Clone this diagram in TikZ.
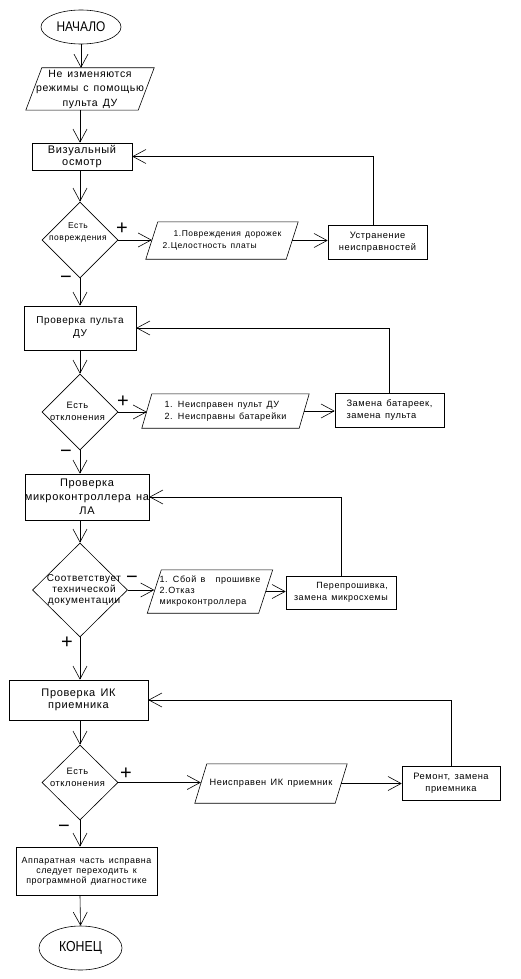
\documentclass[tikz,border=0pt]{standalone}
\usepackage{fontspec}
\setmainfont{Liberation Sans}[LetterSpace=6,WordSpace=1.4]
\newfontfamily\termfont{Liberation Sans}[FakeStretch=0.85]
\newfontfamily\signfont{Liberation Sans}
\usetikzlibrary{arrows.meta,shapes.geometric}
\newcommand\fsz[2]{\fontsize{#1}{#2}\selectfont}
\newcommand\iopara[2]{\draw[thinl] ([xshift=#2]#1.north west) -- ([xshift=#2]#1.north east) -- ([xshift=-#2]#1.south east) -- ([xshift=-#2]#1.south west) -- cycle;}
\begin{document}
\begin{tikzpicture}[x=1pt,y=-1pt,
 thinl/.style={line width=0.6pt},
 arr/.style={thinl,-{Straight Barb[length=13pt,width=14pt]}},
 box/.style={draw,thinl,rectangle,inner sep=0pt,align=center},
 term/.style={draw,thinl,ellipse,inner sep=0pt,font=\termfont\fsz{14}{14}},
 io/.style={rectangle,inner sep=0pt},
 dia/.style={draw,thinl,diamond,inner sep=0pt},
 dtext/.style={inner sep=0pt,align=center},
 sgn/.style={inner sep=0pt,font=\signfont\fsz{20}{20}}]
\fill[white] (0,0) rectangle (521,979);
\useasboundingbox (0,0) rectangle (521,979);

\node[term,minimum width=80pt,minimum height=34pt] (start) at (81,27) {НАЧАЛО};
\node[io,minimum width=112pt,minimum height=42pt,align=center,font=\fsz{10.5}{14.5}] (in) at (90,89) {Не изменяются\\режимы с помощью\\пульта ДУ};
\iopara{in}{8pt}
\node[box,minimum width=100pt,minimum height=27pt,font=\fsz{11}{12}] (vis) at (82,156.5) {Визуальный\\осмотр};
\node[dia,minimum width=76pt,minimum height=76pt] (d1) at (80,240) {};
\node[dtext,font=\fsz{8.5}{11.5}] (d1t) at (78,232.5) {Есть\\повреждения};
\node[io,minimum width=140pt,minimum height=37pt,align=left,font=\fsz{8.5}{12.5}] (io2) at (222,240.5) {\hspace*{11pt}1.Повреждения дорожек\\2.Целостность платы};
\iopara{io2}{6pt}
\node[box,minimum width=99pt,minimum height=34pt,font=\fsz{9.3}{12}] (fix1) at (377.5,242) {Устранение\\неисправностей};

\node[box,minimum width=112pt,minimum height=44pt,font=\fsz{10}{13}] (p2) at (80,328) {Проверка пульта\\ДУ};
\node[dia,minimum width=76pt,minimum height=76pt] (d2) at (80,412) {};
\node[dtext,font=\fsz{9.3}{12}] (d2t) at (77.5,411) {Есть\\отклонения};
\node[io,minimum width=157pt,minimum height=34pt,align=left,font=\fsz{9}{12}] (io3) at (225.5,411) {1. Неисправен пульт ДУ\\2. Неисправны батарейки};
\iopara{io3}{5pt}
\node[box,minimum width=109pt,minimum height=34pt,align=left,font=\fsz{9.3}{12}] (fix2) at (389.5,410) {Замена батареек,\\замена пульта};

\node[box,minimum width=124pt,minimum height=46pt,font=\fsz{11}{14}] (p3) at (87,497) {Проверка\\микроконтроллера на\\ЛА};
\node[dia,minimum width=95pt,minimum height=94pt] (d3) at (80,590) {};
\node[dtext,font=\fsz{10}{11}] (d3t) at (84,590) {Соответствует\\технической\\документации};
\node[io,minimum width=111pt,minimum height=43pt,align=left,font=\fsz{9}{11}] (io4) at (210,591.5) {1. Сбой в\hspace{6pt} прошивке\\2.Отказ\\микроконтроллера};
\iopara{io4}{7pt}
\node[box,minimum width=110pt,minimum height=33pt,align=right,font=\fsz{9}{12}] (fix3) at (341,592.5) {Перепрошивка,\\замена микросхемы};

\node[box,minimum width=139pt,minimum height=40pt,font=\fsz{11}{12.5}] (p4) at (78.5,700) {Проверка ИК\\приемника};
\node[dia,minimum width=76pt,minimum height=75pt] (d4) at (80,782.5) {};
\node[dtext,font=\fsz{9.3}{11.5}] (d4t) at (77.5,777.5) {Есть\\отклонения};
\node[io,minimum width=140pt,minimum height=39pt,font=\fsz{9.2}{12}] (io5) at (271,783.5) {Неисправен ИК приемник};
\iopara{io5}{6pt}
\node[box,minimum width=98pt,minimum height=34pt,font=\fsz{9.3}{12}] (fix4) at (451,783) {Ремонт, замена\\приемника};

\node[box,minimum width=141pt,minimum height=48pt,font=\fsz{8.9}{10}] (res) at (86.5,871) {Аппаратная часть исправна\\следует переходить к\\программной диагностике};
\node[term,minimum width=83pt,minimum height=44pt,font=\termfont\fsz{14.5}{14.5}] (end) at (80.5,948) {КОНЕЦ};

\node[sgn] (s1) at (122,229) {+};
\node[sgn] (s2) at (66,280) {−};
\node[sgn] (s3) at (123,402) {+};
\node[sgn] (s4) at (66,454) {−};
\node[sgn] (s5) at (132,580) {−};
\node[sgn] (s6) at (67,643) {+};
\node[sgn] (s7) at (126,774) {+};
\node[sgn] (s8) at (64,829) {−};

\coordinate (col) at (80,0);
\draw[arr] (start.south) -- (start.south |- in.north);
\draw[arr] (col |- in.south) -- (col |- vis.north);
\draw[arr] (col |- vis.south) -- (d1.north);
\draw[arr] (d1.east) -- (d1.east -| io2.west);
\draw[arr] (io2.east) -- (io2.east -| fix1.west);
\draw[arr] ([xshift=-4pt]fix1.north) |- (vis.east);
\draw[arr] (d1.south) -- (col |- p2.north);
\draw[arr] (col |- p2.south) -- (d2.north);
\draw[arr] (d2.east) -- (d2.east -| io3.west);
\draw[arr] (io3.east) -- (io3.east -| fix2.west);
\draw[arr] (fix2.north) |- (p2.east);
\draw[arr] (d2.south) -- (col |- p3.north);
\draw[arr] (col |- p3.south) -- (d3.north);
\draw[arr] (d3.east) -- (d3.east -| io4.west);
\draw[arr] (io4.east) -- (io4.east -| fix3.west);
\draw[arr] (fix3.north) |- (p3.east);
\draw[arr] (d3.south) -- (col |- p4.north);
\draw[arr] (col |- p4.south) -- (d4.north);
\draw[arr] (d4.east) -- (d4.east -| io5.west);
\draw[arr] (io5.east) -- (io5.east -| fix4.west);
\draw[arr] (fix4.north) |- (p4.east);
\draw[arr] (d4.south) -- (col |- res.north);
\draw[arr] (col |- res.south) -- (end.north);
\end{tikzpicture}
\end{document}
